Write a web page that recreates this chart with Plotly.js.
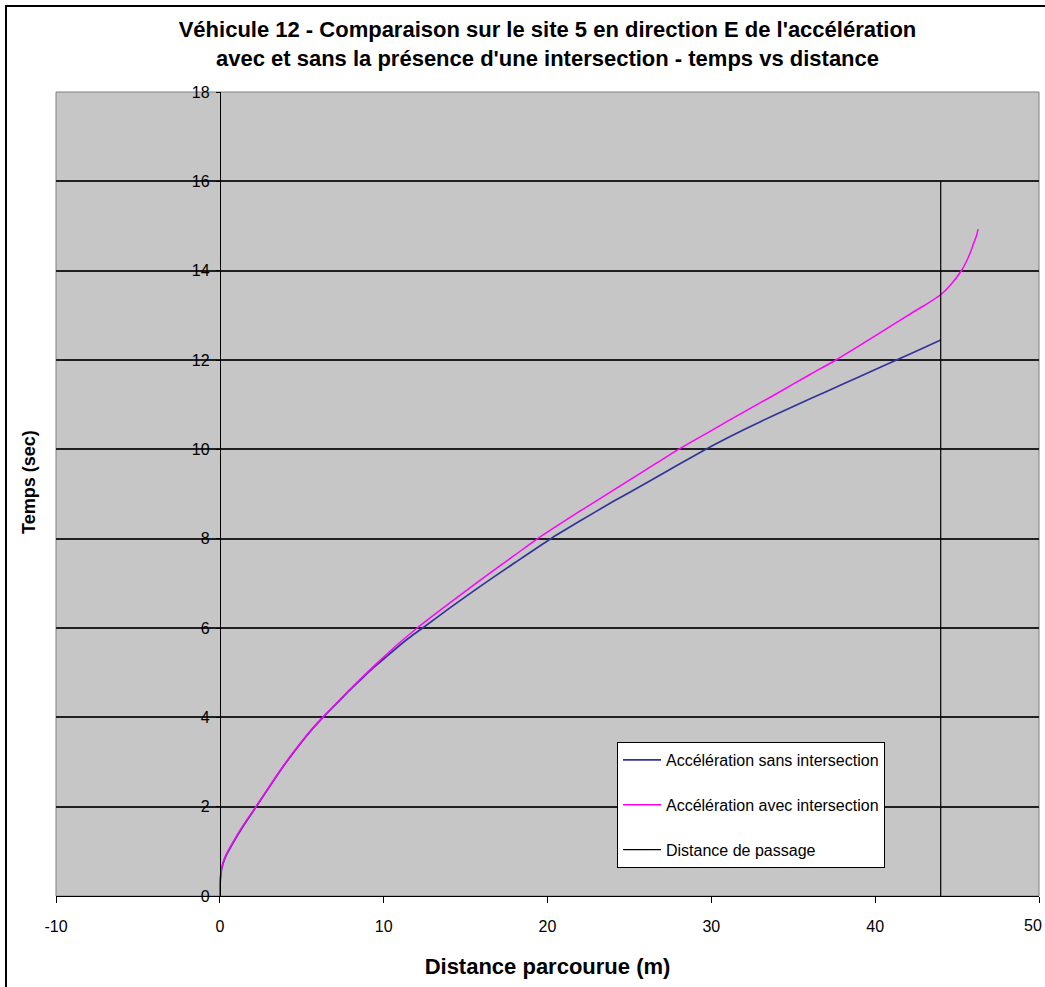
<!DOCTYPE html>
<html>
<head>
<meta charset="utf-8">
<script src="https://cdn.plot.ly/plotly-3.0.1.min.js"></script>
<style>
  html, body { margin: 0; padding: 0; background: #fff; }
  #wrap { position: relative; width: 1045px; height: 987px; overflow: hidden; }
  #chart { position: absolute; left: 0; top: 0; width: 1045px; height: 987px; }
  #frame { position: absolute; left: 5px; top: 5px; width: 1100px; height: 1100px;
           border-left: 2.5px solid #000; border-top: 2.5px solid #000; pointer-events: none; }
</style>
</head>
<body>
<div id="wrap">
  <div id="chart"></div>
  <div id="frame"></div>
</div>
<script>
// Série : Accélération sans intersection (distance m, temps s)
const sansDistance = [0, 0.02, 0.12, 0.35, 0.75, 1.35, 2.35, 3.0, 3.87, 4.89, 5.6, 6.3, 7.1, 7.9, 8.7, 9.5, 10.3, 11.0, 11.7, 12.38, 14.0, 16.0, 18.0, 20.2, 22.0, 24.0, 26.0, 28.0, 29.5, 31.0, 33.0, 35.0, 37.0, 39.0, 41.3, 43.0, 44.0];
const sansTemps    = [0, 0.3, 0.62, 0.88, 1.15, 1.52, 2.07, 2.43, 2.9, 3.4, 3.72, 4.0, 4.3, 4.6, 4.88, 5.15, 5.4, 5.62, 5.82, 6.0, 6.44, 6.96, 7.46, 8.0, 8.4, 8.83, 9.24, 9.66, 9.97, 10.26, 10.62, 10.96, 11.29, 11.62, 12.0, 12.28, 12.45];

// Série : Accélération avec intersection
const avecDistance = [0, 0.02, 0.12, 0.35, 0.75, 1.35, 2.35, 3.0, 3.87, 4.89, 5.6, 6.3, 7.1, 7.9, 8.7, 9.5, 10.3, 11.0, 12.05, 14.0, 16.0, 18.0, 19.4, 22.0, 24.0, 26.0, 28.0, 30.0, 32.0, 34.0, 36.0, 37.6, 40.0, 42.0, 43.0, 44.0, 44.6, 45.3, 45.75, 46.0, 46.2, 46.28];
const avecTemps    = [0, 0.35, 0.65, 0.9, 1.17, 1.54, 2.08, 2.44, 2.91, 3.41, 3.73, 4.01, 4.31, 4.61, 4.9, 5.18, 5.45, 5.68, 6.0, 6.55, 7.1, 7.63, 8.0, 8.62, 9.08, 9.54, 10.0, 10.42, 10.84, 11.25, 11.67, 12.0, 12.54, 13.0, 13.22, 13.46, 13.68, 14.02, 14.35, 14.6, 14.8, 14.93];

// Série : Distance de passage
const passageDistance = [44, 44];
const passageTemps    = [0, 16];

const xTicks = [-10, 0, 10, 20, 30, 40, 50];
const yTicks = [0, 2, 4, 6, 8, 10, 12, 14, 16, 18];

const FONT = 'Arial, "Liberation Sans", sans-serif';

// the last x label (50) sits on the chart's right edge; it is drawn as an
// annotation anchored on its right side so that it stays inside the picture
const lastX = xTicks[xTicks.length - 1];
const xTickText = xTicks.map(v => (v === lastX ? '' : String(v)));

const traces = [
  { x: sansDistance, y: sansTemps, mode: 'lines', name: 'Accélération sans intersection',
    line: { color: '#333399', width: 1.7, shape: 'spline', smoothing: 0.6 }, legendgroup: 'a' },
  { x: avecDistance, y: avecTemps, mode: 'lines', name: 'Accélération avec intersection',
    line: { color: '#ff00ff', width: 1.5, shape: 'spline', smoothing: 0.6 }, legendgroup: 'b' },
  { x: passageDistance, y: passageTemps, mode: 'lines', name: 'Distance de passage',
    line: { color: '#000000', width: 1.2 }, legendgroup: 'c' }
];

const layout = {
  width: 1045, height: 987,
  margin: { l: 56, r: 6, t: 92, b: 91 },
  paper_bgcolor: '#ffffff',
  plot_bgcolor: '#c6c6c6',
  font: { family: FONT, color: '#000', size: 16 },
  title: {
    text: "<b>Véhicule 12 - Comparaison sur le site 5 en direction E de l'accélération<br>avec et sans la présence d'une intersection - temps vs distance</b>",
    font: { family: FONT, size: 22, color: '#000' },
    x: 0.5, xref: 'paper', y: 1 - 37 / 987, yref: 'container', yanchor: 'middle'
  },
  xaxis: {
    range: [-10, 50], tickvals: xTicks, ticktext: xTickText,
    showgrid: false, zeroline: false,
    showline: true, linecolor: '#000', linewidth: 1,
    ticks: 'outside', ticklen: 6, tickcolor: '#000',
    ticklabelstandoff: 10,
    tickfont: { family: FONT, size: 16, color: '#000' },
    title: { text: '<b>Distance parcourue (m)</b>', font: { family: FONT, size: 22, color: '#000' }, standoff: 24 },
    fixedrange: true
  },
  yaxis: {
    range: [0, 18], tickvals: yTicks, ticktext: yTicks.map(String),
    anchor: 'free', position: 1 / 6,
    showgrid: true, gridcolor: '#202020', gridwidth: 2,
    zeroline: false,
    showline: true, linecolor: '#000', linewidth: 1,
    ticks: 'outside', ticklen: 4, tickcolor: '#000',
    ticklabelstandoff: 3,
    tickfont: { family: FONT, size: 16, color: '#000' },
    fixedrange: true
  },
  annotations: [
    {
      text: '<b>Temps (sec)</b>', textangle: -90,
      xref: 'paper', yref: 'paper', x: -0.0275, y: 0.515,
      xanchor: 'center', yanchor: 'middle', showarrow: false,
      font: { family: FONT, size: 18, color: '#000' }
    },
    {
      text: String(lastX),
      xref: 'paper', yref: 'paper', x: 1.0055, y: -0.0373,
      xanchor: 'right', yanchor: 'middle', showarrow: false,
      font: { family: FONT, size: 16, color: '#000' }
    }
  ],
  shapes: [{
    type: 'rect', xref: 'paper', yref: 'paper', x0: 0, x1: 1, y0: 0, y1: 1,
    line: { color: '#808080', width: 1 }, layer: 'below'
  }],
  legend: {
    x: 0.5707, y: 0.1915, xanchor: 'left', yanchor: 'top',
    bgcolor: '#ffffff', bordercolor: '#000', borderwidth: 1,
    font: { family: FONT, size: 16, color: '#000' },
    itemwidth: 38,
    tracegroupgap: 21, traceorder: 'grouped'
  },
  showlegend: true
};

Plotly.newPlot('chart', traces, layout, { displayModeBar: false, staticPlot: true });
</script>
</body>
</html>
